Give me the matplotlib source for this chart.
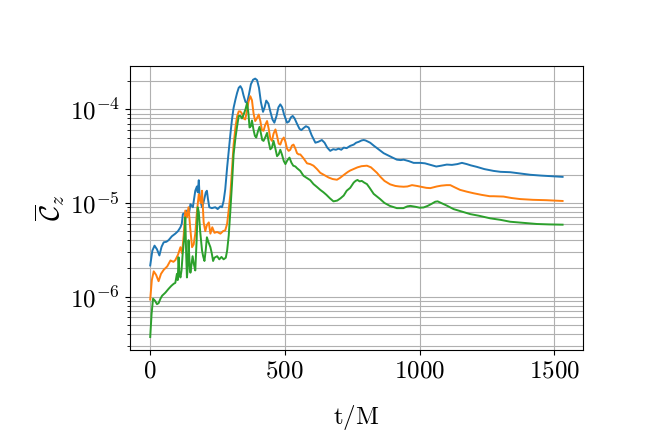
import numpy as np
import matplotlib
matplotlib.use("Agg")
import matplotlib.pyplot as plt
from matplotlib.ticker import FuncFormatter

plt.rcParams['mathtext.fontset'] = 'cm'
plt.rcParams['font.family'] = 'serif'
plt.rcParams['font.serif'] = ['DejaVu Serif']

t_blue = [2, 10, 18, 27, 36, 44, 52, 62, 70, 82, 95, 105, 114, 119, 123, 130, 138, 145, 151, 160,
          169, 175, 178, 182, 185, 190, 194, 199, 204, 208, 212, 216, 221, 230, 243, 252, 262, 268,
          274, 280, 287, 293, 299, 305, 311, 318, 324, 330, 336, 342, 348, 355, 361, 368, 375, 383,
          391, 398, 405, 412, 420, 426, 432, 440, 447, 455, 462, 470, 477, 484, 491, 498, 509, 516,
          523, 530, 537, 546, 555, 562, 570, 579, 589, 600, 614, 625, 638, 648, 658, 669, 680, 690,
          700, 710, 719, 730, 743, 756, 765, 775, 785, 793, 800, 817, 830, 845, 867, 885, 900, 916,
          930, 941, 960, 978, 1003, 1020, 1040, 1062, 1080, 1101, 1120, 1140, 1157, 1175, 1190, 1212,
          1240, 1274, 1300, 1336, 1370, 1410, 1450, 1490, 1530]
c_blue = [2.15e-6, 3.1e-6, 3.5e-6, 3.2e-6, 2.75e-6, 3.4e-6, 3.8e-6, 3.85e-6, 4.0e-6, 4.4e-6, 4.7e-6,
          5.0e-6, 5.5e-6, 6.0e-6, 7.6e-6, 7.8e-6, 8.3e-6, 7.5e-6, 9.7e-6, 9.0e-6, 1.35e-5, 1.5e-5,
          1.3e-5, 1.75e-5, 1.2e-5, 1.0e-5, 9.0e-6, 1.0e-5, 1.15e-5, 1.3e-5, 1.35e-5, 1.1e-5, 9.0e-6,
          8.8e-6, 9.0e-6, 8.6e-6, 9.2e-6, 9.0e-6, 1.05e-5, 1.4e-5, 2.4e-5, 3.6e-5, 5.4e-5, 7.8e-5,
          1.04e-4, 1.28e-4, 1.5e-4, 1.7e-4, 1.77e-4, 1.65e-4, 1.4e-4, 1.2e-4, 1.17e-4, 1.45e-4,
          1.85e-4, 2.07e-4, 2.13e-4, 2.05e-4, 1.7e-4, 1.2e-4, 9.4e-5, 1.05e-4, 1.24e-4, 1.15e-4,
          9.5e-5, 7.8e-5, 7.2e-5, 8.5e-5, 1.05e-4, 1.13e-4, 1.05e-4, 8.8e-5, 7.2e-5, 7.4e-5, 8.2e-5,
          8.5e-5, 8.0e-5, 7.0e-5, 6.2e-5, 6.0e-5, 6.3e-5, 6.6e-5, 6.4e-5, 5.3e-5, 4.4e-5, 4.5e-5,
          4.7e-5, 4.4e-5, 3.9e-5, 3.6e-5, 3.75e-5, 3.7e-5, 3.8e-5, 3.7e-5, 3.9e-5, 3.85e-5, 4.07e-5,
          4.2e-5, 4.4e-5, 4.5e-5, 4.65e-5, 4.7e-5, 4.65e-5, 4.4e-5, 4.1e-5, 3.8e-5, 3.4e-5, 3.2e-5,
          3.05e-5, 2.9e-5, 2.87e-5, 2.9e-5, 2.8e-5, 2.68e-5, 2.68e-5, 2.65e-5, 2.55e-5, 2.45e-5, 2.5e-5,
          2.57e-5, 2.55e-5, 2.6e-5, 2.68e-5, 2.6e-5, 2.52e-5, 2.43e-5, 2.3e-5, 2.2e-5, 2.15e-5,
          2.13e-5, 2.07e-5, 2.0e-5, 1.96e-5, 1.93e-5, 1.9e-5]

t_orange = [2, 8, 15, 24, 33, 42, 52, 65, 77, 88, 95, 105, 114, 120, 126, 132, 138, 144, 150, 157,
            163, 169, 175, 182, 186, 190, 194, 200, 206, 212, 219, 225, 232, 240, 250, 262, 272,
            280, 287, 293, 299, 305, 311, 318, 324, 330, 336, 342, 348, 354, 360, 366, 373, 379,
            385, 391, 397, 404, 410, 416, 422, 428, 435, 441, 447, 453, 459, 466, 472, 478, 484,
            490, 497, 503, 509, 515, 521, 527, 533, 540, 546, 552, 558, 570, 583, 595, 607, 620,
            632, 648, 663, 678, 694, 705, 715, 725, 735, 743, 755, 770, 785, 805, 820, 842,
            855, 870, 891, 910, 925, 941, 955, 972, 990, 1010, 1025, 1040, 1052,
            1064, 1080, 1100, 1114, 1130, 1150, 1175, 1200, 1230, 1260, 1274, 1311, 1340, 1373,
            1420, 1470, 1530]
c_orange = [9.3e-7, 1.5e-6, 1.86e-6, 1.7e-6, 1.46e-6, 1.75e-6, 1.93e-6, 2.1e-6, 2.43e-6, 2.35e-6,
            2.45e-6, 2.8e-6, 3.37e-6, 2.9e-6, 4.5e-6, 8.3e-6, 7.0e-6, 9.0e-6, 5.5e-6, 3.37e-6,
            3.6e-6, 4.7e-6, 8.0e-6, 1.24e-5, 1.1e-5, 1.0e-5, 1.35e-5, 6.2e-6, 5.0e-6, 5.8e-6,
            6.2e-6, 4.7e-6, 5.5e-6, 4.8e-6, 4.9e-6, 4.7e-6, 5.0e-6, 5.1e-6, 6.0e-6, 8.5e-6,
            1.24e-5, 2.3e-5, 4.2e-5, 6.5e-5, 8.4e-5, 9.5e-5, 9.5e-5, 9.0e-5, 8.0e-5, 7.8e-5,
            9.5e-5, 1.2e-4, 1.38e-4, 1.25e-4, 9.0e-5, 7.5e-5, 8.0e-5, 8.8e-5, 7.5e-5, 6.0e-5,
            5.9e-5, 6.8e-5, 7.5e-5, 6.2e-5, 4.9e-5, 4.6e-5, 5.5e-5, 6.1e-5, 5.2e-5, 4.3e-5,
            4.2e-5, 4.7e-5, 5.0e-5, 4.5e-5, 3.8e-5, 3.6e-5, 3.7e-5, 4.1e-5, 4.2e-5, 3.8e-5,
            3.4e-5, 3.3e-5, 3.3e-5, 3.0e-5, 2.65e-5, 2.6e-5, 2.5e-5, 2.3e-5,
            2.1e-5, 1.98e-5, 1.87e-5, 1.8e-5, 1.77e-5, 1.85e-5, 1.95e-5, 2.05e-5,
            2.15e-5, 2.22e-5, 2.3e-5, 2.4e-5, 2.47e-5, 2.5e-5, 2.4e-5, 2.1e-5, 1.9e-5,
            1.72e-5, 1.58e-5, 1.52e-5, 1.5e-5, 1.49e-5, 1.5e-5, 1.55e-5, 1.52e-5, 1.48e-5,
            1.45e-5, 1.44e-5, 1.47e-5, 1.5e-5, 1.53e-5, 1.55e-5, 1.55e-5, 1.47e-5, 1.38e-5,
            1.32e-5, 1.27e-5, 1.22e-5, 1.18e-5, 1.18e-5, 1.17e-5, 1.13e-5, 1.1e-5, 1.08e-5,
            1.07e-5, 1.05e-5]

t_green = [2, 7, 12.5, 20, 27, 33, 40, 46, 58, 70, 80, 89, 95, 101, 104, 107, 110, 114, 118, 122,
           126, 129, 132, 135, 138, 141, 144, 148, 151, 155, 159, 164, 169, 174, 178, 182, 187,
           191, 194, 198, 203, 208, 212, 218, 225, 230, 235, 240, 250, 258, 266, 274, 282, 287,
           293, 299, 305, 311, 318, 324, 330, 336, 342, 348, 355, 361, 366, 370, 375, 379, 385,
           390, 395, 401, 407, 413, 417, 422, 428, 435, 441, 447, 453, 459, 465, 472, 478, 484,
           490, 497, 503, 510, 518, 525, 532, 540, 546, 558, 570, 582, 595, 607, 620,
           632, 644, 655, 668, 681, 695, 707, 719, 730, 743, 756, 763, 770, 778, 786, 795,
           805, 815, 830, 854, 870, 890, 916, 940, 955, 966, 985, 1000, 1015, 1030,
           1045, 1058, 1067, 1080, 1100, 1126, 1150, 1170, 1188, 1220, 1262, 1300, 1336, 1380,
           1435, 1480, 1530]
c_green = [3.7e-7, 6.5e-7, 9.5e-7, 9.0e-7, 8.3e-7, 8.5e-7, 9.5e-7, 1.02e-6, 1.1e-6, 1.21e-6, 1.3e-6,
           1.37e-6, 1.4e-6, 1.75e-6, 1.5e-6, 2.63e-6, 1.8e-6, 1.6e-6, 1.9e-6, 2.8e-6, 3.65e-6,
           4.5e-6, 7.0e-6, 3.0e-6, 1.6e-6, 2.0e-6, 4.0e-6, 2.2e-6, 1.8e-6, 2.2e-6, 2.7e-6, 2.2e-6,
           1.9e-6, 4.0e-6, 9.0e-6, 8.0e-6, 5.0e-6, 3.8e-6, 3.1e-6, 2.7e-6, 2.4e-6, 3.2e-6, 4.3e-6,
           3.8e-6, 3.37e-6, 2.9e-6, 2.4e-6, 2.6e-6, 2.7e-6, 2.5e-6, 2.65e-6, 2.5e-6, 2.6e-6,
           3.1e-6, 4.5e-6, 8.3e-6, 1.6e-5, 3.3e-5, 5.0e-5, 6.6e-5, 8.5e-5, 8.5e-5, 8.0e-5, 8.8e-5,
           1.0e-4, 1.17e-4, 9.0e-5, 6.4e-5, 6.6e-5, 7.6e-5, 6.0e-5, 5.2e-5, 5.0e-5, 5.8e-5, 6.5e-5,
           5.4e-5, 4.7e-5, 4.6e-5, 5.0e-5, 5.6e-5, 4.5e-5, 3.74e-5, 3.9e-5, 4.6e-5, 3.9e-5,
           3.16e-5, 3.3e-5, 3.7e-5, 3.3e-5, 2.8e-5, 2.6e-5, 2.85e-5, 3.05e-5, 2.7e-5, 2.5e-5,
           2.45e-5, 2.35e-5, 2.2e-5, 1.95e-5, 1.85e-5, 1.75e-5, 1.59e-5, 1.48e-5,
           1.38e-5, 1.3e-5, 1.22e-5, 1.12e-5, 1.04e-5, 1.06e-5, 1.12e-5, 1.2e-5, 1.35e-5,
           1.45e-5, 1.65e-5, 1.72e-5, 1.76e-5, 1.7e-5, 1.72e-5, 1.65e-5, 1.59e-5, 1.45e-5,
           1.25e-5, 1.1e-5, 1.0e-5, 9.3e-6, 8.8e-6, 8.8e-6, 9.2e-6, 9.3e-6, 9.1e-6,
           8.9e-6, 8.95e-6, 9.3e-6, 9.8e-6, 1.03e-5, 1.04e-5, 1.0e-5, 9.4e-6, 8.6e-6, 8.2e-6,
           7.9e-6, 7.6e-6, 7.3e-6, 6.85e-6, 6.6e-6, 6.3e-6, 6.15e-6, 5.96e-6, 5.9e-6, 5.86e-6]

xlabel = r'$\mathrm{t/M}$'
ylabel = r'$\overline{\mathcal{C}}_z$'

fig, ax = plt.subplots(figsize=(6.48, 4.32), dpi=100)
fig.subplots_adjust(left=0.2, right=0.9, top=0.848, bottom=0.19)

ax.plot(t_blue, c_blue, color='#1f77b4', lw=1.4)
ax.plot(t_orange, c_orange, color='#ff7f0e', lw=1.4)
ax.plot(t_green, c_green, color='#2ca02c', lw=1.4)

ax.set_yscale('log')
ax.grid(True, which='both', color='#b0b0b0', lw=0.8)
ax.set_axisbelow(True)

ax.xaxis.set_major_formatter(FuncFormatter(lambda v, p: r'$%d$' % v))
ax.yaxis.set_major_formatter(FuncFormatter(lambda v, p: r'$10^{%d}$' % int(round(np.log10(v)))))
ax.set_xticks([0, 500, 1000, 1500])
ax.tick_params(labelsize=18)
ax.set_xlabel(xlabel, fontsize=18, labelpad=15)
ax.set_ylabel(ylabel, fontsize=20, labelpad=2)

fig.savefig('out.png', dpi=100)
